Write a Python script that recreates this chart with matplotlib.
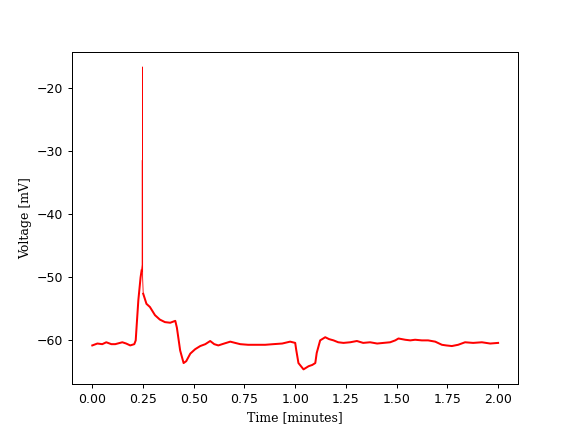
import matplotlib
matplotlib.use("Agg")
import matplotlib.pyplot as plt

time_min = [0.000, 0.025, 0.049, 0.069, 0.094, 0.113, 0.148, 0.167, 0.187, 0.207,
            0.214, 0.219, 0.227, 0.238, 0.243, 0.2460, 0.2465, 0.2470, 0.2475, 0.2480,
            0.251, 0.267, 0.284, 0.309, 0.333, 0.358, 0.384, 0.409, 0.417, 0.433,
            0.450, 0.463, 0.483, 0.507, 0.532, 0.557, 0.581, 0.601, 0.621, 0.650,
            0.680, 0.704, 0.729, 0.768, 0.811, 0.852, 0.892, 0.936, 0.975, 1.000,
            1.005, 1.016, 1.041, 1.066, 1.084, 1.099, 1.106, 1.123, 1.148, 1.167,
            1.189, 1.212, 1.238, 1.271, 1.304, 1.335, 1.369, 1.404, 1.435, 1.468,
            1.493, 1.509, 1.542, 1.567, 1.591, 1.624, 1.655, 1.690, 1.723, 1.744,
            1.772, 1.803, 1.837, 1.877, 1.920, 1.961, 2.000]
voltage_mv = [-60.8, -60.5, -60.6, -60.3, -60.6, -60.6, -60.3, -60.5, -60.8, -60.6,
              -60.0, -57.5, -53.6, -50.0, -48.9, -48.0, -31.4, -49.0, -16.6, -50.0,
              -52.6, -54.2, -54.7, -56.0, -56.7, -57.1, -57.2, -56.9, -58.0, -61.6,
              -63.6, -63.3, -62.1, -61.4, -60.9, -60.6, -60.1, -60.6, -60.8, -60.5,
              -60.2, -60.4, -60.6, -60.7, -60.7, -60.7, -60.6, -60.5, -60.2, -60.4,
              -61.5, -63.6, -64.6, -64.1, -63.9, -63.6, -62.0, -60.0, -59.5, -59.8,
              -60.0, -60.3, -60.4, -60.3, -60.1, -60.4, -60.3, -60.5, -60.4, -60.3,
              -60.0, -59.7, -59.9, -60.0, -59.9, -60.0, -60.0, -60.2, -60.7, -60.8,
              -60.9, -60.7, -60.3, -60.4, -60.3, -60.5, -60.4]

spike_start, spike_end = 14, 21

fig, ax = plt.subplots(figsize=(6.4, 4.8), dpi=90)
ax.plot(time_min[:spike_start + 1], voltage_mv[:spike_start + 1], color="red", linewidth=1.6)
ax.plot(time_min[spike_start:spike_end], voltage_mv[spike_start:spike_end], color="red", linewidth=0.7)
ax.plot(time_min[spike_end - 1:], voltage_mv[spike_end - 1:], color="red", linewidth=1.6)
ax.set_xlabel("Time [minutes]", family="DejaVu Serif")
ax.set_ylabel("Voltage [mV]", family="DejaVu Serif")
ax.set_xticks([0.0, 0.25, 0.5, 0.75, 1.0, 1.25, 1.5, 1.75, 2.0])
fig.savefig("out.png", dpi=90)
